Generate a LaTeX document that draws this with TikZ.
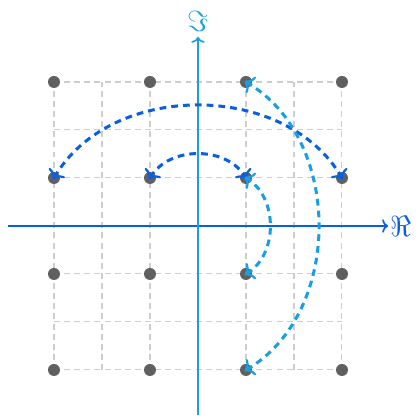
\documentclass[tikz,border=0pt]{standalone}
\usepackage{amssymb}
\usetikzlibrary{arrows.meta}
\definecolor{darkblu}{RGB}{10,95,225}
\definecolor{lightblu}{RGB}{25,158,228}
\definecolor{dotgray}{RGB}{96,96,96}
\definecolor{gridgray}{RGB}{205,205,205}
\tikzset{
  gridline/.style={gridgray, line width=0.6pt, dash pattern=on 3.5pt off 2.5pt},
  axisline/.style={line width=1pt, -{To[length=3.5pt,width=8pt]}},
  swaparc/.style={line width=1.8pt, dash pattern=on 4pt off 3pt,
    {To[length=5pt,width=11pt,line width=1.3pt,sep=-1pt]}-{To[length=5pt,width=11pt,line width=1.3pt,sep=-1pt]}},
  dotmark/.style={fill=dotgray},
  axlabel/.style={font=\LARGE, inner sep=1pt}
}
\begin{document}
\begin{tikzpicture}
\useasboundingbox (-4.125,-4.02) rectangle (4.604,4.708);
% grid
\draw[gridline] (-3,-3) grid (3,3);
% axes
\coordinate (xs) at (-3.96,0);
\coordinate (xe) at (3.96,0);
\coordinate (ys) at (0,-3.94);
\coordinate (ye) at (0,3.94);
\draw[axisline, darkblu] (xs) -- (xe);
\draw[axisline, lightblu] (ys) -- (ye);
\node[axlabel, darkblu, anchor=west] (re) at (xe) {$\Re$};
\node[axlabel, lightblu, anchor=south, yshift=2pt] (im) at (ye) {$\Im$};
% dots
\foreach \i/\x in {a/-3,b/-1,c/1,d/3}{
  \foreach \j/\y in {a/-3,b/-1,c/1,d/3}{
    \coordinate (p\i\j) at (\x,\y);
    \fill[dotmark] (p\i\j) circle (0.125);
  }
}
% arcs
\draw[swaparc, darkblu] (pac) to[bend left=60] (pdc);
\draw[swaparc, darkblu] (pbc) to[bend left=60] (pcc);
\draw[swaparc, lightblu] (pca) to[bend right=60] (pcd);
\draw[swaparc, lightblu] (pcb) to[bend right=60] (pcc);
\end{tikzpicture}
\end{document}
